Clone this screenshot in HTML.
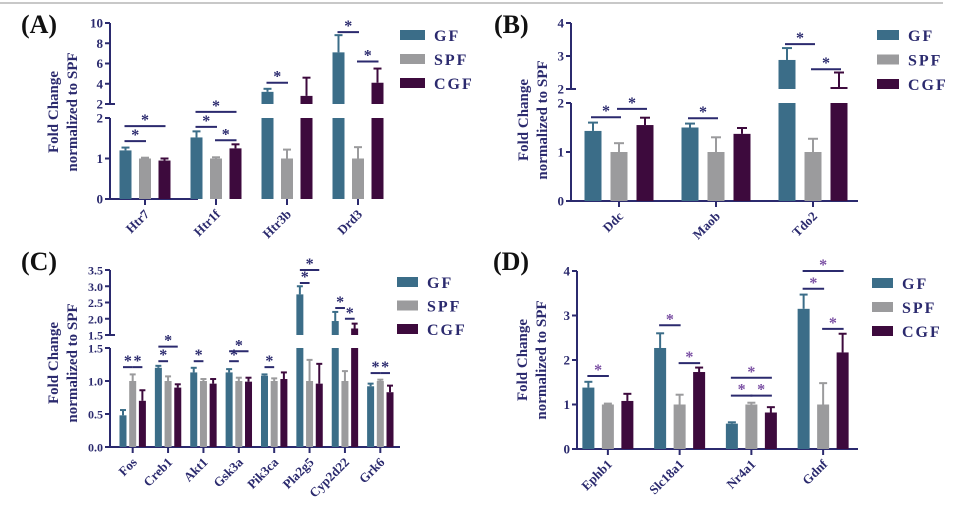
<!DOCTYPE html>
<html><head><meta charset="utf-8"><style>
html,body{margin:0;padding:0;background:#fff;}
svg{display:block;font-family:"Liberation Serif",serif;}
</style></head><body>
<svg id="fig" width="968" height="513" viewBox="0 0 968 513">
<line x1="0" y1="3" x2="943" y2="3" stroke="#c8c8c8" stroke-width="2"/>
</svg>
<script>
// ---------- DATA ----------
const seriesNames = ["GF","SPF","CGF"];
const catsA = ["Htr7","Htr1f","Htr3b","Drd3"];
const gfA = [1.2,1.52,3.2,7.1];
const spfA = [1.0,1.0,1.0,1.0];
const cgfA = [0.95,1.25,2.8,4.1];
const gfErrA = [0.07,0.15,0.3,1.7];
const spfErrA = [0.02,0.03,0.22,0.28];
const cgfErrA = [0.05,0.1,1.8,1.4];
const ticksLoA = ["0","1","2"];
const ticksHiA = ["2","4","6","8","10"];
const sigA = [[0,0,1,1.43,"lo"],[0,0,2,1.8,"lo"],[1,0,1,1.78,"lo"],[1,0,2,2.15,"lo"],[1,1,2,1.45,"lo"],[2,0,1,4.1,"hi"],[3,0,1,9.1,"hi"],[3,1,2,6.2,"hi"]];

const catsB = ["Ddc","Maob","Tdo2"];
const gfB = [1.43,1.5,2.88];
const spfB = [1.0,1.0,1.0];
const cgfB = [1.55,1.37,2.06];
const gfErrB = [0.17,0.08,0.36];
const spfErrB = [0.18,0.3,0.27];
const cgfErrB = [0.15,0.12,0.44];
const ticksLoB = ["0","1","2"];
const ticksHiB = ["2","3","4"];
const sigB = [[0,0,1,1.71,"lo"],[0,1,2,1.88,"lo"],[1,0,1,1.69,"lo"],[2,0,1,3.36,"hi"],[2,1,2,2.6,"hi"]];

const catsC = ["Fos","Creb1","Akt1","Gsk3a","Pik3ca","Pla2g5","Cyp2d22","Grk6"];
const gfC = [0.48,1.2,1.13,1.13,1.08,2.75,1.93,0.92];
const spfC = [1.0,1.0,1.0,1.0,1.0,1.0,1.0,1.0];
const cgfC = [0.7,0.9,0.96,0.99,1.03,0.96,1.7,0.83];
const gfErrC = [0.08,0.03,0.07,0.05,0.02,0.25,0.28,0.04];
const spfErrC = [0.1,0.07,0.03,0.05,0.04,0.32,0.15,0.02];
const cgfErrC = [0.16,0.05,0.07,0.06,0.1,0.3,0.15,0.1];
const ticksLoC = ["0.0","0.5","1.0","1.5"];
const ticksHiC = ["1.5","2.0","2.5","3.0","3.5"];
const sigC = [[0,0,1,1.21,"lo"],[0,1,2,1.21,"lo"],[1,0,1,1.3,"lo"],[1,0,2,1.52,"lo"],[2,0,1,1.3,"lo"],[3,0,1,1.3,"lo"],[3,0,2,1.45,"lo"],[4,0,1,1.21,"lo"],[5,0,1,3.1,"hi"],[5,0,2,3.5,"hi"],[6,0,1,2.33,"hi"],[6,1,2,2.0,"hi"],[7,0,1,1.12,"lo"],[7,1,2,1.12,"lo"]];

const catsD = ["Ephb1","Slc18a1","Nr4a1","Gdnf"];
const gfD = [1.38,2.27,0.57,3.15];
const spfD = [1.0,1.0,1.0,1.0];
const cgfD = [1.08,1.73,0.82,2.17];
const gfErrD = [0.13,0.33,0.03,0.32];
const spfErrD = [0.02,0.22,0.04,0.48];
const cgfErrD = [0.16,0.1,0.12,0.42];
const ticksLoD = ["0","1","2","3","4"];
const sigD = [[0,0,1,1.64,"lo"],[1,0,1,2.78,"lo"],[1,1,2,1.93,"lo"],[2,0,1,1.2,"lo"],[2,1,2,1.2,"lo"],[2,0,2,1.6,"lo"],[3,0,1,3.6,"lo"],[3,0,2,4.0,"lo"],[3,1,2,2.7,"lo"]];

// ---------- DRAW ----------
const NS="http://www.w3.org/2000/svg";
const svg=document.getElementById('fig');
const COLORS=["#3b6d88","#9b9b9d","#3d0a3d"];
const NAVY="#2b2a6e";
function mk(tag,attrs,parent){const e=document.createElementNS(NS,tag);for(const k in attrs)e.setAttribute(k,attrs[k]);(parent||svg).appendChild(e);return e;}

function panel(L,cats,vals,errs,ticksLo,ticksHi,sig,starColor){
  const g=mk('g',{});
  
  
  const lab=mk('text',{x:L.labX,y:L.labY,'font-size':26,'font-weight':'bold',fill:'#111'},g);
  lab.textContent='('+L.id.toUpperCase()+')';
  
  
  const lo=L.lo, hi=L.hi;
  const yLo=v=>lo.y0+(v-lo.v0)*(lo.y1-lo.y0)/(lo.v1-lo.v0);
  const yHi=v=>hi.y0+(v-hi.v0)*(hi.y1-hi.y0)/(hi.v1-hi.v0);
  const n=cats.length, bw=(L.bx1-L.bx0)/n;
  const cx=i=>L.bx0+(i+0.5)*bw;
  const bx=(i,s)=>cx(i)+(s-1)*L.gap;
  const ax=mk('g',{},g);
  
  
  mk('line',{x1:L.ax,y1:lo.y0,x2:L.ax,y2:lo.y1,stroke:NAVY,'stroke-width':2},ax);
  mk('line',{x1:L.ax,y1:lo.y0,x2:L.axEnd,y2:lo.y0,stroke:NAVY,'stroke-width':2},ax);
  const tfs=L.tfs||13;
  ticksLo.forEach(t=>{const v=parseFloat(t),y=yLo(v);
    mk('line',{x1:L.ax-5,y1:y,x2:L.ax,y2:y,stroke:NAVY,'stroke-width':2},ax);
    const tx=mk('text',{x:L.ax-7,y:y+4.5,'text-anchor':'end','font-size':tfs,'font-weight':'bold',fill:NAVY},ax);tx.textContent=t;
    
    });
  if(hi){
    mk('line',{x1:L.ax,y1:hi.y0,x2:L.ax,y2:hi.y1,stroke:NAVY,'stroke-width':2},ax);
    ticksHi.forEach(t=>{const v=parseFloat(t),y=yHi(v);
      mk('line',{x1:L.ax-5,y1:y,x2:L.ax+(v===hi.v0?5:0),y2:y,stroke:NAVY,'stroke-width':2},ax);
      const tx=mk('text',{x:L.ax-7,y:y+4.5,'text-anchor':'end','font-size':tfs,'font-weight':'bold',fill:NAVY},ax);tx.textContent=t;
      
      });
  }
  const tt=mk('text',{transform:`translate(${L.titX},${L.titY}) rotate(-90)`,'text-anchor':'middle','font-size':15,'font-weight':'bold',fill:NAVY},g);
  const t1=mk('tspan',{x:0,dy:0},tt);t1.textContent='Fold Change';
  const t2=mk('tspan',{x:0,dy:19},tt);t2.textContent='normalized to SPF';
  
  
  for(let i=0;i<n;i++){
    mk('line',{x1:cx(i),y1:lo.y0,x2:cx(i),y2:lo.y0+6,stroke:NAVY,'stroke-width':2},g);
    const xl=mk('text',{transform:`translate(${cx(i)+5},${lo.y0+16}) rotate(-45)`,'text-anchor':'end','font-size':13,'font-weight':'bold',fill:NAVY},g);
    xl.textContent=cats[i];
    
    
    for(let s=0;s<3;s++){
      const v=vals[s][i], e=errs[s][i], x=bx(i,s), c=COLORS[s];
      const brk = hi ? lo.v1 : Infinity;
      const topLo = Math.min(v,brk);
      const r=mk('rect',{x:x-L.w/2,y:yLo(topLo),width:L.w,height:yLo(0)-yLo(topLo),fill:c},g);
      
      
      let yv, ye;
      if(hi && v>brk){
        const r2=mk('rect',{x:x-L.w/2,y:yHi(v),width:L.w,height:yHi(hi.v0)-yHi(v),fill:c},g);
        
        
        yv=yHi(v); ye=yHi(v+e);
      } else { yv=yLo(v); ye=yLo(v+e); }
      mk('line',{x1:x,y1:yv,x2:x,y2:ye,stroke:c,'stroke-width':2},g);
      mk('line',{x1:x-L.cap,y1:ye,x2:x+L.cap,y2:ye,stroke:c,'stroke-width':2},g);
    }
  }
  sig.forEach(sg=>{
    const [i,a,b,v,seg]=sg;const y=seg==="hi"?yHi(v):yLo(v);
    const x1=bx(i,a)-L.sx,x2=bx(i,b)+L.sx;
    const sl=mk('line',{x1:x1,y1:y,x2:x2,y2:y,stroke:NAVY,'stroke-width':2},g);
    
    
    const st=mk('text',{x:(x1+x2)/2,y:y-1,'text-anchor':'middle','font-size':16,'font-weight':'bold',fill:starColor},g);
    st.textContent='*';
    
    
  });
  seriesNames.forEach((nm,s)=>{
    const lg=mk('g',{},g);
    
    
    const y=L.legY+s*L.legDy;
    mk('rect',{x:L.legX,y:y-5,width:L.legW,height:10,fill:COLORS[s]},lg);
    const t=mk('text',{x:L.legX+L.legW+9,y:y+6,'font-size':16,'font-weight':'bold',fill:NAVY,'letter-spacing':2},lg);
    t.textContent=nm;
  });
}

panel({id:'a',labX:21,labY:33,ax:110,axEnd:198,bx0:109.5,bx1:393.5,gap:19.5,w:12,cap:4,sx:1,
  lo:{y0:199,y1:118,v0:0,v1:2},hi:{y0:104,y1:23,v0:2,v1:10},titX:58,titY:112,
  legX:400,legW:25,legY:35,legDy:24},
  catsA,[gfA,spfA,cgfA],[gfErrA,spfErrA,cgfErrA],ticksLoA,ticksHiA,sigA,NAVY);
panel({id:'b',labX:494,labY:33,ax:571,axEnd:858,bx0:570.5,bx1:861.5,gap:26,w:17,cap:5,sx:2,
  lo:{y0:201,y1:103,v0:0,v1:2},hi:{y0:89,y1:23,v0:2,v1:4},titX:528,titY:120,
  legX:877,legW:22,legY:35,legDy:24.5},
  catsB,[gfB,spfB,cgfB],[gfErrB,spfErrB,cgfErrB],ticksLoB,ticksHiB,sigB,NAVY);
panel({id:'c',labX:21,labY:270,ax:110,axEnd:400,bx0:115,bx1:398,gap:9.7,w:7,cap:3,sx:0,tfs:12,
  lo:{y0:447,y1:348,v0:0,v1:1.5},hi:{y0:335,y1:270,v0:1.5,v1:3.5},titX:58,titY:363,
  legX:397,legW:21,legY:282,legDy:23.5},
  catsC,[gfC,spfC,cgfC],[gfErrC,spfErrC,cgfErrC],ticksLoC,ticksHiC,sigC,NAVY);
panel({id:'d',labX:493,labY:270,ax:577,axEnd:858,bx0:572,bx1:859,gap:19.5,w:12,cap:4,sx:1,
  lo:{y0:449,y1:271,v0:0,v1:4},hi:null,titX:527,titY:360,
  legX:872,legW:21,legY:283,legDy:24},
  catsD,[gfD,spfD,cgfD],[gfErrD,spfErrD,cgfErrD],ticksLoD,[],sigD,"#7a4fa3");
</script>
</body></html>
